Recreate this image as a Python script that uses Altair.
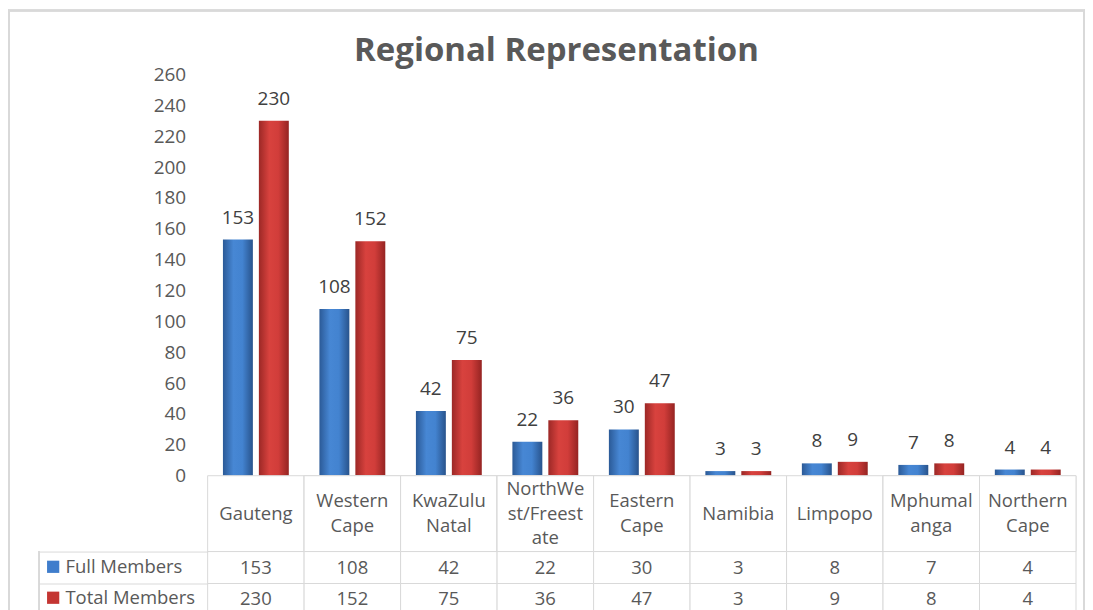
import altair as alt
import pandas as pd

# ---- data ----
categories = ["Gauteng", "Western Cape", "KwaZulu Natal", "NorthWest/Freestate",
              "Eastern Cape", "Namibia", "Limpopo", "Mphumalanga", "Northern Cape"]
header_lines = [["Gauteng"], ["Western", "Cape"], ["KwaZulu", "Natal"],
                ["NorthWe", "st/Freest", "ate"], ["Eastern", "Cape"], ["Namibia"],
                ["Limpopo"], ["Mphumal", "anga"], ["Northern", "Cape"]]
series = ["Full Members", "Total Members"]
full_members = [153, 108, 42, 22, 30, 3, 8, 7, 4]
total_members = [230, 152, 75, 36, 47, 3, 9, 8, 4]
y_ticks = list(range(0, 261, 20))

rows = []
for c, f, t in zip(categories, full_members, total_members):
    rows.append({"category": c, "series": series[0], "value": f})
    rows.append({"category": c, "series": series[1], "value": t})
long = pd.DataFrame(rows)

hrows = []
for c, lines in zip(categories, header_lines):
    for k, ln in enumerate(lines):
        hrows.append({"category": c, "line": ln, "k": k, "n": len(lines)})
hdr = pd.DataFrame(hrows)

FONT = "Open Sans"
W = 870
GRID = "#d9d9d9"
TXT = "#595959"
FS = 19

blue_grad = alt.LinearGradient(gradient="linear", x1=0, x2=1, y1=0, y2=0, stops=[
    alt.GradientStop(color="#2b5a97", offset=0),
    alt.GradientStop(color="#4787d4", offset=0.35),
    alt.GradientStop(color="#4383d0", offset=0.65),
    alt.GradientStop(color="#28538c", offset=1)])
red_grad = alt.LinearGradient(gradient="linear", x1=0, x2=1, y1=0, y2=0, stops=[
    alt.GradientStop(color="#9c2826", offset=0),
    alt.GradientStop(color="#d8423e", offset=0.35),
    alt.GradientStop(color="#d13d3a", offset=0.65),
    alt.GradientStop(color="#952422", offset=1)])

x_enc = alt.X("category:N", sort=categories,
              scale=alt.Scale(domain=categories, paddingInner=0, paddingOuter=0),
              axis=None)

# ---- bars ----
base = alt.Chart(long).encode(
    x=x_enc,
    xOffset=alt.XOffset("series:N", sort=series,
                        scale=alt.Scale(domain=series, paddingInner=0.167, paddingOuter=0.426)),
    y=alt.Y("value:Q", scale=alt.Scale(domain=[0, 260]),
            axis=alt.Axis(values=y_ticks, grid=False, domain=False, ticks=False,
                          labelFontSize=FS, labelColor=TXT, labelFont=FONT,
                          labelPadding=22, title=None)),
)
blue_bars = base.transform_filter(alt.datum.series == series[0]).mark_bar(color=blue_grad)
red_bars = base.transform_filter(alt.datum.series == series[1]).mark_bar(color=red_grad)
bar_labels = base.mark_text(baseline="bottom", dy=-12, fontSize=FS, color="#404040",
                            font=FONT).encode(text="value:Q")
# light outer frame of the chart area
frame = alt.Chart(long).mark_rect(fill="transparent", stroke="#d9d9d9", strokeWidth=1.5).encode(
    x=alt.value(-199), x2=alt.value(878), y=alt.value(-64), y2=alt.value(560))
bars = alt.layer(frame, blue_bars, red_bars, bar_labels).properties(width=W, height=402)

# ---- header row of the data table ----
hbase = alt.Chart(hdr)
hcells = hbase.mark_rect(fill="white", stroke=GRID, strokeWidth=1).encode(x=x_enc)
htext = hbase.transform_calculate(pos="(datum.n - 1) / 2 - datum.k").mark_text(
    fontSize=FS - 0.5, color=TXT, font=FONT, baseline="middle").encode(
    x=x_enc,
    y=alt.Y("pos:Q", scale=alt.Scale(domain=[-1.55, 1.55]), axis=None),
    text="line:N")
header = alt.layer(hcells, htext).properties(width=W, height=76)

# ---- value rows of the data table ----
rows_y = alt.Y("series:N", sort=series,
               scale=alt.Scale(domain=series, paddingInner=0, paddingOuter=0),
               axis=alt.Axis(labels=False, title=None, domain=False, ticks=True,
                             tickBand="extent", tickSize=169, tickColor=GRID))
rbase = alt.Chart(long)
rcells = rbase.mark_rect(fill="white", stroke=GRID, strokeWidth=1).encode(x=x_enc, y=rows_y)
rvals = rbase.mark_text(fontSize=FS - 0.5, color=TXT, font=FONT).encode(
    x=x_enc, y=rows_y, text="value:Q")
rkeys = rbase.mark_square(opacity=0).encode(
    x=x_enc, y=rows_y,
    color=alt.Color("series:N", sort=series,
                    scale=alt.Scale(domain=series, range=["#3f7dcc", "#c43532"]),
                    legend=alt.Legend(orient="none", legendX=-164, legendY=6, title=None,
                                      symbolType="square", symbolSize=150, symbolOpacity=1,
                                      symbolStrokeWidth=0, labelFontSize=FS - 0.5,
                                      labelFont=FONT, labelColor=TXT, labelOffset=3,
                                      rowPadding=12, padding=0)))
left_border = rbase.mark_rule(color=GRID).encode(x=alt.value(-169))
table_rows = alt.layer(rcells, left_border, rvals, rkeys).properties(width=W, height=64)

chart = alt.vconcat(bars, header, table_rows, spacing=0, bounds="flush").resolve_scale(
    color="independent", y="independent").resolve_legend(color="independent").properties(
    title=alt.Title("Regional Representation", fontSize=33, font=FONT, color=TXT,
                    fontWeight="bold", anchor="middle", frame="bounds", offset=-58, dx=10),
    padding={"left": 0, "top": 1, "right": 0, "bottom": 0},
).configure_view(strokeWidth=0)

chart.save("out.html", embed_options={"renderer": "svg", "actions": False})
